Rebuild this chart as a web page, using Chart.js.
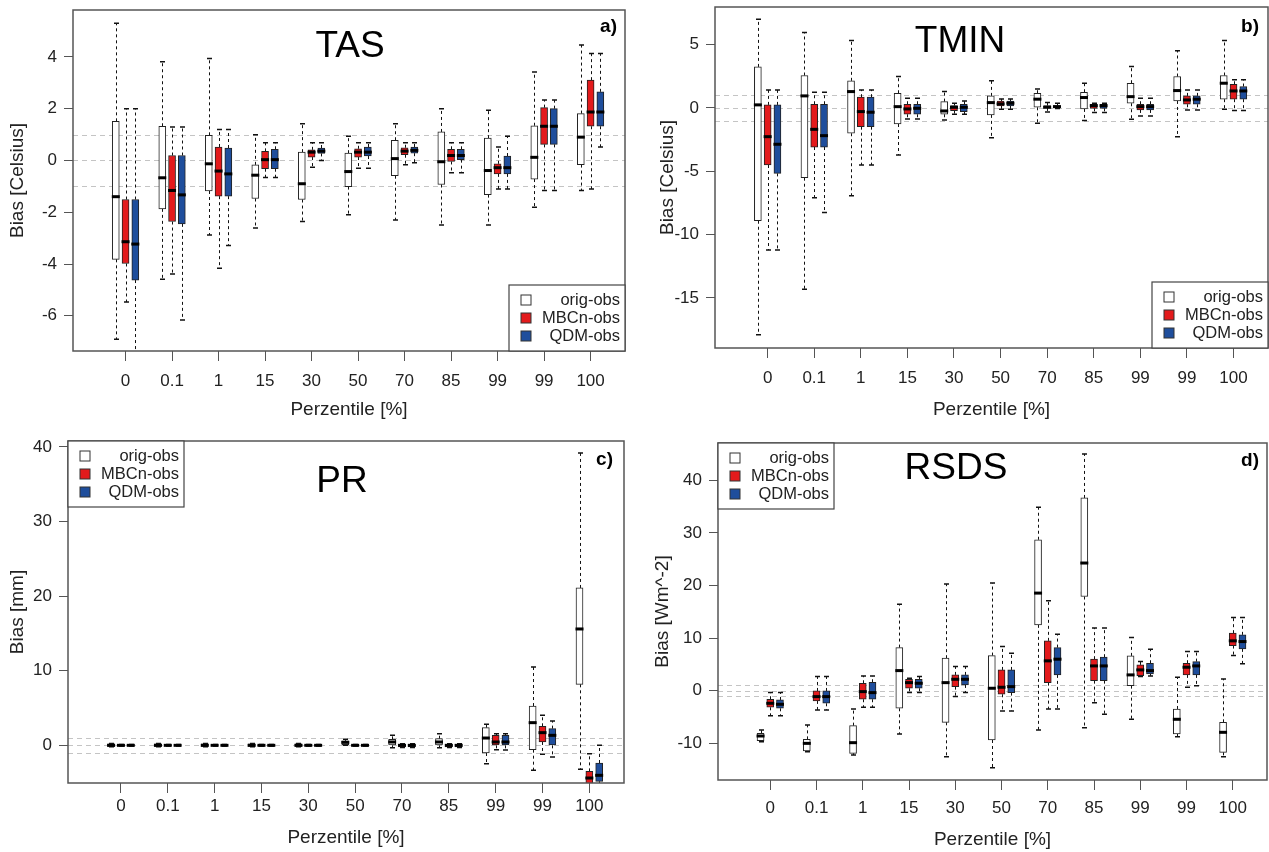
<!DOCTYPE html>
<html>
<head>
<meta charset="utf-8">
<script src="https://cdn.jsdelivr.net/npm/chart.js@4.4.1/dist/chart.umd.min.js"></script>
<style>
  body { margin: 0; background: #fff; width: 1269px; height: 852px; position: relative; overflow: hidden; }
  canvas { position: absolute; }
</style>
</head>
<body>
<canvas id="tas" width="635" height="430" style="left:0;top:0"></canvas>
<canvas id="tmin" width="629" height="430" style="left:640px;top:0"></canvas>
<canvas id="pr" width="635" height="422" style="left:0;top:430px"></canvas>
<canvas id="rsds" width="629" height="422" style="left:640px;top:430px"></canvas>
<script>
// categories and series
const percentiles = ["0", "0.1", "1", "15", "30", "50", "70", "85", "99", "99", "100"];
const seriesNames = ["orig-obs", "MBCn-obs", "QDM-obs"];
const seriesColors = ["#ffffff", "#e31a1c", "#1f4e9c"];
const refLines = [-1, 0, 1];

// each box: [lower whisker, q1, median, q3, upper whisker]
const tasOrig = [
  [-6.91, -3.82, -1.4, 1.51, 5.3], [-4.59, -1.87, -0.67, 1.32, 3.81], [-2.88, -1.18, -0.13, 0.97, 3.94],
  [-2.61, -1.47, -0.57, -0.17, 0.99], [-2.36, -1.51, -0.9, 0.32, 1.42], [-2.1, -1.01, -0.43, 0.28, 0.93],
  [-2.3, -0.59, 0.07, 0.78, 1.42], [-2.49, -0.93, -0.05, 1.1, 2.0], [-2.49, -1.32, -0.39, 0.86, 1.94],
  [-1.81, -0.72, 0.12, 1.34, 3.42], [-1.16, -0.16, 0.9, 1.81, 4.46],
];
const tasMbcn = [
  [-5.47, -3.98, -3.14, -1.51, 2.0], [-4.39, -2.36, -1.16, 0.19, 1.29], [-4.16, -1.38, -0.41, 0.52, 1.19],
  [-0.66, -0.32, 0.03, 0.35, 0.68], [-0.26, 0.13, 0.32, 0.41, 0.68], [-0.3, 0.13, 0.32, 0.45, 0.68],
  [-0.17, 0.22, 0.36, 0.49, 0.68], [-0.48, -0.04, 0.19, 0.43, 0.68], [-1.1, -0.52, -0.28, -0.13, 0.52],
  [-1.16, 0.62, 1.32, 2.04, 2.33], [-1.1, 1.32, 1.87, 3.1, 4.13],
];
const tasQdm = [
  [-7.6, -4.62, -3.23, -1.51, 2.0], [-6.16, -2.45, -1.33, 0.19, 1.29], [-3.29, -1.38, -0.52, 0.48, 1.19],
  [-0.66, -0.32, 0.03, 0.43, 0.68], [0.0, 0.27, 0.36, 0.48, 0.68], [-0.3, 0.17, 0.32, 0.52, 0.68],
  [-0.09, 0.28, 0.39, 0.52, 0.68], [-0.48, 0.03, 0.19, 0.43, 0.68], [-1.1, -0.52, -0.28, 0.17, 0.93],
  [-1.16, 0.62, 1.32, 2.0, 2.33], [0.52, 1.32, 1.87, 2.65, 4.13],
];
const tasTicks = [-6, -4, -2, 0, 2, 4];

const tminOrig = [
  [-17.91, -8.91, 0.24, 3.24, 7.01], [-14.32, -5.51, 0.95, 2.56, 5.96], [-6.94, -2.0, 1.29, 2.14, 5.33],
  [-3.72, -1.27, 0.1, 1.16, 2.48], [-0.95, -0.5, -0.24, 0.5, 1.29], [-2.35, -0.55, 0.42, 0.95, 2.14],
  [-1.21, 0.05, 0.69, 1.16, 1.5], [-1.0, -0.08, 0.82, 1.24, 1.95], [-0.89, 0.37, 0.89, 1.95, 3.27],
  [-2.27, 0.55, 1.37, 2.48, 4.51], [-0.11, 0.69, 1.95, 2.56, 5.33],
];
const tminMbcn = [
  [-11.23, -4.51, -2.27, 0.24, 1.42], [-7.09, -3.09, -1.69, 0.29, 1.24], [-4.51, -1.48, -0.29, 0.85, 1.42],
  [-0.87, -0.5, -0.08, 0.29, 0.77], [-0.5, -0.21, 0.05, 0.18, 0.37], [-0.11, 0.16, 0.32, 0.55, 0.71],
  [-0.32, 0.0, 0.05, 0.18, 0.42], [-0.37, -0.03, 0.18, 0.29, 0.37], [-0.63, -0.16, 0.1, 0.29, 0.77],
  [-0.16, 0.29, 0.63, 0.95, 1.42], [-0.21, 0.69, 1.34, 1.87, 2.22],
];
const tminQdm = [
  [-11.23, -5.17, -2.87, 0.24, 1.42], [-8.25, -3.09, -2.19, 0.29, 1.24], [-4.51, -1.48, -0.34, 0.85, 1.42],
  [-0.87, -0.5, -0.03, 0.29, 0.77], [-0.5, -0.29, 0.05, 0.29, 0.55], [-0.11, 0.16, 0.37, 0.55, 0.71],
  [-0.05, 0.0, 0.1, 0.18, 0.37], [-0.37, -0.03, 0.18, 0.29, 0.37], [-0.63, -0.16, 0.1, 0.29, 0.77],
  [-0.16, 0.29, 0.69, 0.95, 1.42], [-0.21, 0.69, 1.34, 1.69, 2.22],
];
const tminTicks = [-15, -10, -5, 0, 5];

const prOrig = [
  [-0.2, -0.15, 0, 0.2, 0.25], [-0.2, -0.15, 0, 0.2, 0.25], [-0.2, -0.15, 0, 0.2, 0.25],
  [-0.2, -0.15, 0, 0.2, 0.25], [-0.2, -0.15, 0, 0.2, 0.25], [0.0, 0.1, 0.4, 0.6, 0.8],
  [-0.31, 0.0, 0.45, 0.8, 1.34], [-0.31, 0.0, 0.45, 0.89, 1.56], [-2.46, -1.03, 0.98, 2.37, 2.81],
  [-3.35, -0.58, 3.04, 5.27, 10.5], [-3.22, 8.18, 15.6, 21.1, 39.2],
];
const prMbcn = [
  [-0.1, -0.08, 0, 0.08, 0.1], [-0.1, -0.08, 0, 0.08, 0.1], [-0.1, -0.08, 0, 0.08, 0.1],
  [-0.1, -0.08, 0, 0.08, 0.1], [-0.1, -0.08, 0, 0.08, 0.1], [-0.1, -0.08, 0, 0.08, 0.1],
  [-0.3, -0.2, 0, 0.1, 0.2], [-0.3, -0.2, 0, 0.1, 0.2], [-0.58, 0.0, 0.45, 1.34, 1.56],
  [-1.21, 0.45, 1.7, 2.55, 4.02], [-5.5, -5.2, -4.38, -3.49, -1.12],
];
const prQdm = [
  [-0.1, -0.08, 0, 0.08, 0.1], [-0.1, -0.08, 0, 0.08, 0.1], [-0.1, -0.08, 0, 0.08, 0.1],
  [-0.1, -0.08, 0, 0.08, 0.1], [-0.1, -0.08, 0, 0.08, 0.1], [-0.1, -0.08, 0, 0.08, 0.1],
  [-0.3, -0.2, 0, 0.1, 0.2], [-0.3, -0.2, 0, 0.1, 0.2], [-0.63, 0.0, 0.45, 1.34, 1.56],
  [-1.56, 0.0, 1.34, 2.24, 3.26], [-5.5, -4.83, -4.02, -2.37, 0.0],
];
const prTicks = [0, 10, 20, 30, 40];

const rsdsOrig = [
  [-9.71, -9.52, -8.63, -8.11, -7.49], [-11.62, -11.49, -10.03, -9.27, -6.53], [-12.25, -11.93, -9.9, -6.66, -3.49],
  [-8.25, -3.36, 3.81, 8.19, 16.45], [-12.57, -6.03, 1.52, 6.17, 20.27], [-14.67, -9.39, 0.45, 6.67, 20.45],
  [-7.49, 12.51, 18.55, 28.7, 34.86], [-7.05, 17.9, 24.27, 36.65, 45.03], [-5.45, 0.95, 2.99, 6.61, 10.1],
  [-8.76, -8.25, -5.45, -3.49, 2.55], [-12.57, -11.74, -7.93, -6.03, 2.22],
];
const rsdsMbcn = [
  [-4.76, -3.17, -2.41, -1.64, -0.38], [-3.68, -1.96, -1.14, -0.06, 2.67], [-3.17, -1.64, -0.19, 1.4, 2.8],
  [-0.38, 0.45, 1.52, 2.16, 2.35], [-1.14, 0.76, 2.16, 2.99, 4.57], [-3.87, -0.69, 0.64, 3.94, 8.38],
  [-3.49, 1.52, 5.66, 9.47, 17.09], [-2.29, 1.9, 4.7, 5.98, 11.89], [2.67, 2.86, 3.94, 4.9, 5.52],
  [0.64, 2.99, 4.45, 5.21, 7.43], [6.67, 8.57, 9.47, 10.93, 13.9],
];
const rsdsQdm = [
  [-4.76, -3.36, -2.6, -1.77, -0.38], [-3.68, -2.41, -1.14, -0.06, 2.67], [-3.17, -1.64, -0.38, 1.59, 2.8],
  [-0.38, 0.45, 1.4, 2.16, 2.67], [-0.38, 1.08, 2.16, 2.99, 4.57], [-3.87, -0.38, 0.76, 3.94, 7.11],
  [-3.49, 2.99, 5.98, 8.19, 10.74], [-4.5, 1.9, 4.7, 6.36, 11.89], [2.8, 3.18, 3.81, 5.21, 7.88],
  [0.95, 2.99, 4.7, 5.52, 7.43], [5.09, 7.94, 9.33, 10.61, 13.9],
];
const rsdsTicks = [-10, 0, 10, 20, 30, 40];

const FONT = "'Liberation Sans', Arial, sans-serif";
Chart.defaults.font.family = FONT;
const boxOffsets = [-0.21, 0, 0.21];

// whiskers, medians, reference lines, frame, legend and panel texts
const boxExtras = {
  id: "boxExtras",
  beforeDatasetsDraw(chart) {
    const { ctx, chartArea: a, scales: { x, y } } = chart;
    ctx.save();
    ctx.beginPath();
    ctx.rect(a.left, a.top, a.width, a.height);
    ctx.clip();
    ctx.strokeStyle = "#c4c4c4";
    ctx.lineWidth = 1;
    ctx.setLineDash([5, 4]);
    refLines.forEach((v) => {
      const py = Math.round(y.getPixelForValue(v)) + 0.5;
      ctx.beginPath();
      ctx.moveTo(a.left, py);
      ctx.lineTo(a.right, py);
      ctx.stroke();
    });
    chart.data.datasets.forEach((ds) => {
      ds.stats.forEach((s, i) => {
        const px = Math.round(x.getPixelForValue(ds.data[i].x)) + 0.5;
        ctx.strokeStyle = "#111";
        ctx.lineWidth = 1;
        ctx.setLineDash([3, 3]);
        ctx.beginPath();
        ctx.moveTo(px, y.getPixelForValue(s[3]));
        ctx.lineTo(px, y.getPixelForValue(s[4]));
        ctx.moveTo(px, y.getPixelForValue(s[1]));
        ctx.lineTo(px, y.getPixelForValue(s[0]));
        ctx.stroke();
        ctx.setLineDash([]);
        ctx.lineWidth = 1.5;
        ctx.beginPath();
        [s[0], s[4]].forEach((v) => {
          const py = y.getPixelForValue(v);
          ctx.moveTo(px - 2.5, py);
          ctx.lineTo(px + 2.5, py);
        });
        ctx.stroke();
      });
    });
    ctx.restore();
  },
  afterDatasetsDraw(chart, args, opts) {
    const { ctx, chartArea: a, scales: { x, y } } = chart;
    ctx.save();
    ctx.beginPath();
    ctx.rect(a.left, a.top, a.width, a.height);
    ctx.clip();
    ctx.fillStyle = "#000";
    chart.data.datasets.forEach((ds) => {
      ds.stats.forEach((s, i) => {
        const px = x.getPixelForValue(ds.data[i].x);
        const py = y.getPixelForValue(s[2]);
        ctx.fillRect(px - 4, py - 1.5, 8, 3);
      });
    });
    ctx.restore();

    ctx.save();
    // plot frame
    ctx.strokeStyle = "#555";
    ctx.lineWidth = 1.5;
    ctx.strokeRect(a.left, a.top, a.width, a.height);

    // legend
    const lw = 116, lh = 66;
    const lx = opts.legend === "br" ? a.right - lw : a.left;
    const ly = opts.legend === "br" ? a.bottom - lh : a.top;
    ctx.fillStyle = "#fff";
    ctx.fillRect(lx, ly, lw, lh);
    ctx.lineWidth = 1.2;
    ctx.strokeStyle = "#444";
    ctx.strokeRect(lx, ly, lw, lh);
    ctx.font = "16.5px " + FONT;
    ctx.textAlign = "right";
    ctx.textBaseline = "middle";
    chart.data.datasets.forEach((ds, k) => {
      const cy = ly + 15 + k * 18;
      ctx.fillStyle = ds.backgroundColor;
      ctx.fillRect(lx + 12, cy - 5, 10, 10);
      ctx.lineWidth = 1;
      ctx.strokeStyle = "#333";
      ctx.strokeRect(lx + 12, cy - 5, 10, 10);
      ctx.fillStyle = "#222";
      ctx.fillText(ds.label, lx + lw - 5, cy);
    });

    // variable name and panel letter
    ctx.fillStyle = "#000";
    ctx.textAlign = "center";
    ctx.font = "37px " + FONT;
    ctx.fillText(opts.name, opts.nameX, opts.nameY);
    ctx.textAlign = "right";
    ctx.font = "bold 19px " + FONT;
    ctx.fillText(opts.letter, opts.letterX, opts.letterY);
    ctx.restore();
  },
};

function makePanel(id, p) {
  const datasets = p.stats.map((stats, k) => ({
    label: seriesNames[k],
    stats: stats,
    data: stats.map((s, i) => ({ x: i + boxOffsets[k], y: [s[1], s[3]] })),
    backgroundColor: seriesColors[k],
    borderColor: "#222",
    borderWidth: 1,
    borderSkipped: false,
    barThickness: 7,
    grouped: false,
  }));
  return new Chart(document.getElementById(id), {
    type: "bar",
    data: { datasets: datasets },
    plugins: [boxExtras],
    options: {
      responsive: false,
      animation: false,
      events: [],
      layout: { padding: { top: p.padTop, right: p.padRight, left: 0, bottom: 0 } },
      plugins: {
        legend: { display: false },
        tooltip: { enabled: false },
        boxExtras: p.text,
      },
      scales: {
        x: {
          type: "linear",
          min: -1.13,
          max: 10.74,
          offset: false,
          afterBuildTicks: (s) => {
            s.ticks = percentiles.map((_, i) => ({ value: i }));
          },
          afterFit: (s) => {
            s.height = p.xHeight;
            s.paddingLeft = 0;
            s.paddingRight = 0;
          },
          grid: { drawOnChartArea: false, drawTicks: true, tickLength: 10, color: "#555", offset: false },
          border: { display: false },
          ticks: {
            autoSkip: false,
            maxRotation: 0,
            padding: p.xTickPad,
            color: "#222",
            font: { size: 17 },
            callback: (v) => percentiles[v],
          },
          title: {
            display: true,
            text: "Perzentile [%]",
            color: "#222",
            font: { size: 19, lineHeight: 1 },
            padding: { top: 0, bottom: p.xTitlePad },
          },
        },
        y: {
          type: "linear",
          min: p.yMin,
          max: p.yMax,
          afterBuildTicks: (s) => {
            s.ticks = p.yTicks.map((v) => ({ value: v }));
          },
          afterFit: (s) => {
            s.width = p.yWidth;
            s.paddingTop = 0;
            s.paddingBottom = 0;
          },
          grid: { drawOnChartArea: false, drawTicks: true, tickLength: 9, color: "#555" },
          border: { display: false },
          ticks: { padding: 7, color: "#222", font: { size: 17 }, callback: (v) => String(v) },
          title: {
            display: true,
            text: p.yTitle,
            color: "#222",
            font: { size: 19, lineHeight: 1 },
            padding: { top: p.yTitlePad, bottom: 0 },
          },
        },
      },
    },
  });
}

makePanel("tas", {
  stats: [tasOrig, tasMbcn, tasQdm], yMin: -7.36, yMax: 5.81, yTicks: tasTicks, yTitle: "Bias [Celsius]",
  yWidth: 73, padTop: 10, padRight: 10, xHeight: 79, xTickPad: 10, xTitlePad: 10.5, yTitlePad: 8.5,
  text: { name: "TAS", nameX: 350, nameY: 47, letter: "a)", letterX: 617, letterY: 27, legend: "br" },
});
makePanel("tmin", {
  stats: [tminOrig, tminMbcn, tminQdm], yMin: -18.96, yMax: 7.97, yTicks: tminTicks, yTitle: "Bias [Celsius]",
  yWidth: 75, padTop: 7, padRight: 1, xHeight: 82, xTickPad: 10, xTitlePad: 10.5, yTitlePad: 18.5,
  text: { name: "TMIN", nameX: 320, nameY: 42, letter: "b)", letterX: 619, letterY: 27, legend: "br" },
});
makePanel("pr", {
  stats: [prOrig, prMbcn, prQdm], yMin: -5.05, yMax: 40.8, yTicks: prTicks, yTitle: "Bias [mm]",
  yWidth: 68, padTop: 11, padRight: 11, xHeight: 69, xTickPad: 3, xTitlePad: 4.5, yTitlePad: 8.5,
  text: { name: "PR", nameX: 342, nameY: 52, letter: "c)", letterX: 613, letterY: 30, legend: "tl" },
});
makePanel("rsds", {
  stats: [rsdsOrig, rsdsMbcn, rsdsQdm], yMin: -17.0, yMax: 47.1, yTicks: rsdsTicks, yTitle: "Bias [Wm^-2]",
  yWidth: 78, padTop: 13, padRight: 2, xHeight: 72, xTickPad: 8, xTitlePad: 2.5, yTitlePad: 13.5,
  text: { name: "RSDS", nameX: 316, nameY: 39, letter: "d)", letterX: 619, letterY: 31, legend: "tl" },
});
</script>
</body>
</html>
